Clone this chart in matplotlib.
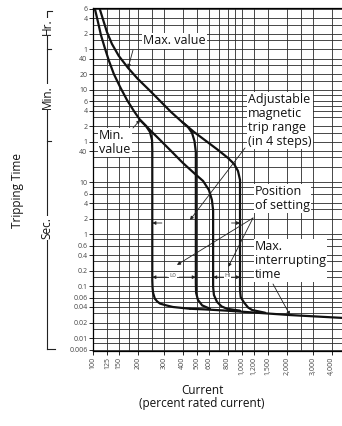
import matplotlib.pyplot as plt
from matplotlib.lines import Line2D
from matplotlib.ticker import NullFormatter

plt.rcParams['font.family'] = ['Open Sans', 'DejaVu Sans']

# x: current in percent of rating, y: tripping time in seconds
x_ticks = [100, 125, 150, 200, 300, 400, 500, 600, 800, 1000, 1200, 1500, 2000, 3000, 4000]
x_labels = ['100', '125', '150', '200', '300', '400', '500', '600', '800',
            '1,000', '1,200', '1,500', '2,000', '3,000', '4,000']
x_minor_grid = [175, 250, 700, 900, 2500]

y_ticks = [21600, 14400, 7200, 3600, 2400, 1200, 600, 360, 240, 120, 60, 40,
           10, 6, 4, 2, 1, 0.6, 0.4, 0.2, 0.1, 0.06, 0.04, 0.02, 0.01, 0.006]
y_labels = ['6', '4', '2', '1', '40', '20', '10', '6', '4', '2', '1', '40',
            '10', '6', '4', '2', '1', '0.6', '0.4', '0.2', '0.1', '0.06', '0.04', '0.02', '0.01', '0.006']
y_minor_grid = [10800, 5400, 1800, 900, 480, 300, 180, 90, 30, 20, 8, 3,
                0.8, 0.3, 0.15, 0.08, 0.05, 0.03, 0.015, 0.008]

# thermal curves (min / max value), ending in the HI magnetic step
min_I = [103, 108, 113, 120, 128, 138, 152, 169, 188, 207, 245, 286, 339, 401, 476, 548, 600, 628, 640,
         640, 648, 680, 730, 793, 970]
min_t = [21600, 12130, 6820, 3840, 2160, 1210, 682, 384, 236, 158, 97, 62.5, 38.4, 23.6, 15.1, 10.6, 7.1,
         4.6, 2.9, 0.097, 0.068, 0.05, 0.041, 0.037, 0.034]
max_I = [111, 117, 124, 134, 149, 172, 200, 238, 282, 334, 396, 476, 573, 690, 805, 884, 940, 970,
         970, 980, 1033, 1100, 1170, 1430]
max_t = [21600, 13260, 7790, 4580, 2690, 1582, 972, 598, 367, 225, 145, 93, 62.5, 41.9, 29.4, 22.6, 16.5, 11.1,
         0.085, 0.062, 0.0485, 0.039, 0.035, 0.031]

# LO magnetic steps, branching off the thermal curves
lo_min_I = [207, 227, 241, 249, 250, 250, 251, 253, 260, 270, 282, 310, 344, 448]
lo_min_t = [158, 121, 93, 65, 42, 0.13, 0.095, 0.075, 0.058, 0.051, 0.0465, 0.043, 0.040, 0.037]
lo_max_I = [396, 434, 462, 480, 490, 490, 492, 506, 540, 610]
lo_max_t = [145, 116, 89, 62, 38, 0.116, 0.075, 0.055, 0.043, 0.037]

# max interrupting time
int_I = [448, 560, 793, 1261, 2100, 4690]
int_t = [0.037, 0.036, 0.034, 0.031, 0.028, 0.0247]

fig = plt.figure(figsize=(3.42, 4.26), dpi=100)
ax = fig.add_axes([93 / 342, 1 - 351 / 426, 1 - 93 / 342, 343 / 426])
ax.set_xscale('log')
ax.set_yscale('log')
ax.set_xlim(100, 4690)
ax.set_ylim(0.0057, 22500)

ax.set_xticks(x_ticks)
ax.set_xticklabels(x_labels, rotation=90)
ax.set_xticks(x_minor_grid, minor=True)
ax.set_yticks(y_ticks)
ax.set_yticklabels(y_labels)
ax.set_yticks(y_minor_grid, minor=True)
ax.xaxis.set_minor_formatter(NullFormatter())
ax.yaxis.set_minor_formatter(NullFormatter())
ax.tick_params(which='major', length=3, width=0.6, labelsize=5, pad=1, labelcolor='#444')
ax.tick_params(which='minor', length=0)
ax.grid(which='both', color='#2a2a2a', lw=0.6)
ax.set_axisbelow(True)
ax.spines['right'].set_visible(False)
for s in ['left', 'bottom', 'top']:
    ax.spines[s].set_linewidth(0.9)

curve = dict(color='#111', lw=1.6, solid_capstyle='round', solid_joinstyle='round')
for xs, ys in [(min_I, min_t), (max_I, max_t), (lo_min_I, lo_min_t), (lo_max_I, lo_max_t),
               (int_I, int_t)]:
    ax.plot(xs, ys, **curve)

# overlay in image pixels for labels
over = fig.add_axes([0, 0, 1, 1], facecolor='none')
over.set_xlim(0, 342)
over.set_ylim(426, 0)
over.axis('off')

box = dict(fc='white', ec='none', pad=0.8)
lab = dict(fontsize=9, color='#111', bbox=box, linespacing=1.1)
over.text(143, 41, 'Max. value', ha='left', va='center', **lab)
over.text(248, 93, 'Adjustable\nmagnetic\ntrip range\n(in 4 steps)', ha='left', va='top', **lab)
over.text(99, 129, 'Min.\nvalue', ha='left', va='top', **lab)
over.text(255, 185, 'Position\nof setting', ha='left', va='top', **lab)
over.text(255, 240, 'Max.\ninterrupting\ntime', ha='left', va='top', **lab)


def pointer(start, target):
    ax.annotate('', xy=target, xycoords='data', xytext=start, textcoords=over.transData,
                arrowprops=dict(arrowstyle='-|>', lw=0.6, color='#222', mutation_scale=5,
                                shrinkA=0, shrinkB=0))


pointer((133, 50), (172, 1582))
pointer((133, 128), (207, 158))
pointer((245, 148), (448, 1.89))
pointer((253, 218), (366, 0.258))
pointer((253, 218), (808, 0.236))
pointer((273, 284), (2100, 0.028))

# dimension marks
dim = dict(arrowstyle='-|>', lw=0.6, color='#222', mutation_scale=5, shrinkA=0, shrinkB=0)
for a, b in [(290, 250), (850, 970)]:
    ax.annotate('', xy=(b, 1.65), xytext=(a, 1.65), arrowprops=dim)
for a, b in [(315, 250), (380, 490), (760, 640), (840, 970)]:
    ax.annotate('', xy=(b, 0.15), xytext=(a, 0.15), arrowprops=dim)
ax.text(345, 0.16, 'L0', fontsize=4.5, color='#555', ha='center', va='center',
        bbox=dict(fc='white', ec='none', pad=0.5))
ax.text(800, 0.16, 'HI', fontsize=4.5, color='#555', ha='center', va='center',
        bbox=dict(fc='white', ec='none', pad=0.5))

# left bracket Hr. / Min. / Sec.
bk = dict(color='#222', lw=0.8)
over.add_line(Line2D([52, 47, 47], [11, 11, 349], **bk))
over.add_line(Line2D([47, 55], [349, 349], **bk))
over.add_line(Line2D([47, 51], [49, 49], **bk))
over.add_line(Line2D([47, 51], [141, 141], **bk))
side = dict(fontsize=8.5, rotation=90, ha='center', va='center', color='#111',
            bbox=dict(fc='white', ec='none', pad=0.6))
over.text(47, 27, 'Hr.', **side)
over.text(47, 97, 'Min.', **side)
over.text(47, 228, 'Sec.', **side)
over.text(18, 191, 'Tripping Time', fontsize=8.5, rotation=90, ha='center', va='center', color='#111')
over.text(202, 397, 'Current\n(percent rated current)', fontsize=8.5, ha='center', va='center',
          multialignment='center', color='#111', linespacing=1.1)

fig.savefig('out.png', dpi=100)
